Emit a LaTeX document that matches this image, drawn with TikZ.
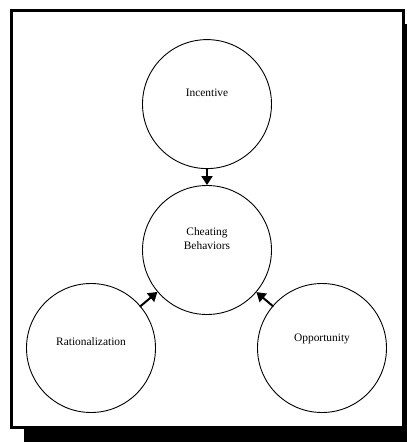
\documentclass[tikz,border=0pt]{standalone}
\usepackage{fontspec}
\setmainfont{Liberation Serif}
\usetikzlibrary{arrows.meta, positioning}

\begin{document}
\begin{tikzpicture}[
    x=1pt, y=-1pt,
    factor/.style={draw, circle, line width=0.9pt, minimum size=129pt, inner sep=0pt, align=center, font=\fontsize{11.4}{14}\selectfont},
    lifted/.style={factor, text depth=#1},
    arrow/.style={-{Triangle[length=9pt, width=11pt]}, line width=2pt, shorten <=-1pt}
  ]
    \useasboundingbox (0,0) rectangle (407,442);

    % Frame with shadow
    \fill[black] (24,24) rectangle (417,442);
    \draw[line width=3pt, fill=white] (11.5,10) rectangle (403,427);

    % Nodes
    \node[lifted=22pt] (cheat) at (207,250) {Cheating\\Behaviors};
    \node[lifted=22pt, above=16pt of cheat] (incentive) {Incentive};
    \node[lifted=12pt] (rational) at (91,348) {Rationalization};
    \node[lifted=20pt] (opport) at (322,348) {Opportunity};

    % Connections
    \draw[arrow] (incentive) -- (cheat);
    \draw[arrow] (rational) -- (cheat);
    \draw[arrow] (opport) -- (cheat);

  \end{tikzpicture}
\end{document}
